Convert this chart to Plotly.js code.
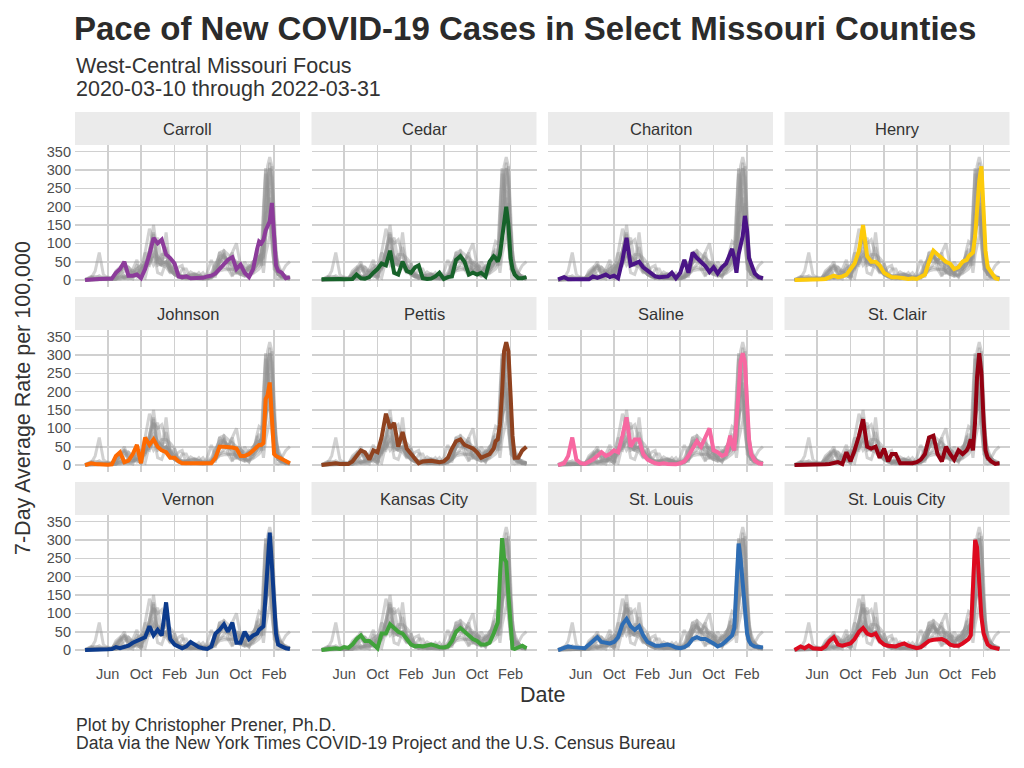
<!DOCTYPE html>
<html>
<head>
<meta charset="utf-8">
<script src="https://cdn.plot.ly/plotly-3.0.1.min.js"></script>
<style>html,body{margin:0;padding:0;background:#fff;}#chart{width:1024px;height:768px;}</style>
</head>
<body>
<div id="chart"></div>
<script>
// ---- Data (7-day average rate per 100,000) ----
const dates = ["2020-03-10","2020-04-01","2020-04-16","2020-05-01","2020-05-16","2020-06-01","2020-06-16","2020-07-01","2020-07-16","2020-08-01","2020-08-16","2020-09-01","2020-09-16","2020-10-01","2020-10-16","2020-11-01","2020-11-16","2020-12-01","2020-12-16",
"2021-01-01","2021-01-16","2021-02-01","2021-02-16","2021-03-01","2021-03-16","2021-04-01","2021-04-16","2021-05-01","2021-05-16","2021-06-01","2021-06-16","2021-07-01","2021-07-16","2021-08-01","2021-08-16","2021-09-01","2021-09-16","2021-10-01","2021-10-16","2021-11-01","2021-11-16",
"2021-12-01","2021-12-08","2021-12-16","2021-12-24",
"2022-01-01","2022-01-08","2022-01-16","2022-01-24","2022-02-01","2022-02-08","2022-02-16","2022-03-01","2022-03-16","2022-03-31"];

const counties = ["Carroll","Cedar","Chariton","Henry","Johnson","Pettis","Saline","St. Clair","Vernon","Kansas City","St. Louis","St. Louis City"];
const countyColors = ["#8C3B9A","#17622A","#4A1486","#FDCB0B","#FD6A02","#8F421F","#F768A1","#930011","#0C3B8C","#41A33B","#2E6DB4","#DD0A1F"];

const carroll = [0,0,2,3,3,2,4,20,30,50,12,12,15,5,30,70,115,100,110,
  70,60,45,10,8,10,5,6,5,6,10,12,18,30,40,55,62,30,42,20,8,30,
  85,105,100,110,
  135,150,160,210,110,40,25,20,5,8];
const cedar = [2,3,2,4,3,2,2,3,15,5,4,8,20,30,45,40,80,20,15,
  50,25,20,35,40,5,3,4,10,20,3,8,10,55,65,50,15,20,15,20,10,50,
  65,60,50,70,
  120,165,200,150,60,30,15,5,5,8];
const chariton = [2,8,2,2,1,1,1,2,10,6,10,15,8,12,5,55,115,40,45,
  50,35,25,15,10,8,8,10,20,5,20,55,20,75,60,50,38,22,35,18,35,45,
  70,85,60,20,
  70,95,120,175,135,60,45,18,8,5];
const henry = [0,0,0,0,0,1,2,3,8,12,8,10,15,30,45,80,150,65,50,
  50,40,20,12,8,8,5,5,3,5,3,8,15,50,80,70,60,50,45,30,35,50,
  55,65,70,75,
  120,200,270,310,150,80,35,20,5,2];
const johnson = [0,5,3,2,2,1,2,25,35,8,12,30,55,5,75,55,70,50,40,
  35,20,20,10,5,5,5,5,5,5,5,5,20,50,50,50,48,45,25,25,30,40,
  50,55,55,60,
  180,190,225,120,30,25,22,18,10,5];
const pettis = [0,2,3,5,3,2,3,10,25,40,35,15,40,35,75,140,100,115,50,
  90,45,30,20,5,10,12,12,10,8,10,20,45,65,70,55,50,45,35,20,25,30,
  45,65,70,110,
  200,310,335,310,190,80,20,20,40,50];
const saline = [0,5,25,75,15,5,3,8,15,25,35,25,30,40,35,80,130,50,70,
  70,30,15,8,5,3,5,3,3,2,5,10,25,45,65,50,75,100,40,35,25,30,
  80,55,40,110,
  200,280,305,280,140,70,30,12,5,3];
const stClair = [0,0,1,1,0,0,0,2,3,5,8,3,35,10,40,80,125,50,45,
  50,20,45,10,30,30,5,5,3,5,8,15,30,75,80,30,10,50,30,15,40,30,
  40,50,70,40,
  120,240,305,250,120,40,20,10,3,5];
const vernon = [0,0,0,1,1,2,3,8,5,8,12,20,25,30,35,65,40,55,40,
  130,30,15,8,5,10,22,15,8,5,3,10,45,55,70,50,75,20,20,50,30,40,
  45,55,60,65,
  150,230,320,230,120,45,15,10,5,3];
const kansasCity = [0,3,4,5,3,8,6,15,30,40,25,25,15,5,45,45,70,60,50,
  45,30,15,10,12,10,12,15,12,8,7,10,25,50,60,50,40,30,25,15,15,20,
  45,60,75,200,
  305,250,240,150,60,5,3,8,12,5];
const stLouis = [0,5,10,8,8,6,5,15,25,35,22,20,18,22,35,70,85,65,55,
  65,40,22,15,12,12,13,15,12,7,5,8,15,30,35,30,30,25,18,10,15,25,
  35,40,60,180,
  290,250,190,110,45,25,15,10,8,7];
const stLouisCity = [0,10,5,12,5,5,3,10,25,35,15,12,15,18,30,50,60,45,40,
  45,25,15,12,12,10,15,18,12,8,5,8,15,25,28,28,30,25,15,12,12,18,
  25,30,40,150,
  300,280,170,90,45,30,15,8,5,3];

const tickDates = ["2020-06-01","2020-10-01","2021-02-01","2021-06-01","2021-10-01","2022-02-01"];
const tickText = ["Jun","Oct","Feb","Jun","Oct","Feb"];
const yTicks = [0,50,100,150,200,250,300,350];

const seriesList = [carroll,cedar,chariton,henry,johnson,pettis,saline,stClair,vernon,kansasCity,stLouis,stLouisCity];

// ---- Layout geometry (pixels) ----
const W = 1024, H = 768;
const colLeft = [75, 311.5, 548, 784.5];
const panelW = 225;
const stripTop = [112, 297, 482];
const stripH = 33;
const plotH = 141.5;
const FONT = "Liberation Sans, Arial, Helvetica, sans-serif";

const traces = [];
const layout = {
  width: W, height: H,
  margin: {l:0, r:0, t:0, b:0},
  paper_bgcolor: "#FFFFFF",
  plot_bgcolor: "#FFFFFF",
  showlegend: false,
  font: {family: FONT, color: "#333333"},
  title: {
    text: "Pace of New COVID-19 Cases in Select Missouri Counties",
    x: 74/W, xanchor: "left", xref: "paper",
    y: 1 - 28/H, yanchor: "middle", yref: "paper",
    font: {family: FONT, size: 33, color: "#2B2B2B", weight: 700}
  },
  shapes: [],
  annotations: []
};

for (let i = 0; i < 12; i++) {
  const row = Math.floor(i / 4), col = i % 4;
  const sfx = i === 0 ? "" : String(i + 1);
  const xa = "x" + sfx, ya = "y" + sfx;
  // grey context lines: all counties
  for (let j = 0; j < 12; j++) {
    traces.push({
      type: "scatter", mode: "lines", x: dates, y: seriesList[j],
      xaxis: xa, yaxis: ya, hoverinfo: "skip",
      line: {color: "rgba(145,145,145,0.42)", width: 3}
    });
  }
  // highlighted county
  traces.push({
    type: "scatter", mode: "lines", x: dates, y: seriesList[i],
    xaxis: xa, yaxis: ya, name: counties[i],
    line: {color: countyColors[i], width: 4}
  });

  const x0 = colLeft[col], x1 = x0 + panelW;
  const pTop = stripTop[row] + stripH, pBot = pTop + plotH;
  layout["xaxis" + sfx] = {
    type: "date",
    domain: [x0 / W, x1 / W],
    anchor: ya,
    range: ["2020-02-02", "2022-05-07"],
    tickmode: "array", tickvals: tickDates, ticktext: tickText,
    showticklabels: row === 2,
    ticks: "", showline: false, zeroline: false,
    showgrid: true, gridcolor: "#D0D0D0", gridwidth: 1.6,
    tickfont: {family: FONT, size: 14.5, color: "#4D4D4D"},
    ticklabelstandoff: 7,
    fixedrange: true
  };
  layout["yaxis" + sfx] = {
    domain: [1 - pBot / H, 1 - pTop / H],
    anchor: xa,
    range: [-17.5, 368],
    tickmode: "array", tickvals: yTicks,
    showticklabels: col === 0,
    ticks: "", showline: false, zeroline: false,
    showgrid: true, gridcolor: "#D0D0D0", gridwidth: 1.6,
    tickfont: {family: FONT, size: 14.5, color: "#4D4D4D"},
    ticklabelstandoff: 3,
    fixedrange: true
  };
  // strip
  layout.shapes.push({
    type: "rect", xref: "paper", yref: "paper", layer: "below",
    x0: x0 / W, x1: x1 / W,
    y0: 1 - (stripTop[row] + stripH) / H, y1: 1 - stripTop[row] / H,
    fillcolor: "#EBEBEB", line: {width: 0}
  });
  layout.annotations.push({
    text: counties[i], xref: "paper", yref: "paper",
    x: (x0 + x1) / 2 / W, y: 1 - (stripTop[row] + stripH / 2) / H,
    xanchor: "center", yanchor: "middle", showarrow: false,
    font: {family: FONT, size: 16.5, color: "#333333"}
  });
}

// subtitle, axis titles, caption
const textAnn = [
  {text: "West-Central Missouri Focus", x: 74, y: 65.5, size: 21.5, anchor: "left"},
  {text: "2020-03-10 through 2022-03-31", x: 74, y: 89, size: 21.5, anchor: "left"},
  {text: "Date", x: 542, y: 695, size: 21.5, anchor: "center"},
  {text: "Plot by Christopher Prener, Ph.D.", x: 74, y: 724.5, size: 17.6, anchor: "left"},
  {text: "Data via the New York Times COVID-19 Project and the U.S. Census Bureau", x: 74, y: 743, size: 17.6, anchor: "left"}
];
textAnn.forEach(a => layout.annotations.push({
  text: a.text, xref: "paper", yref: "paper",
  x: a.x / W, y: 1 - a.y / H, xanchor: a.anchor, yanchor: "middle",
  showarrow: false, font: {family: FONT, size: a.size, color: "#333333"}
}));
layout.annotations.push({
  text: "7-Day Average Rate per 100,000", xref: "paper", yref: "paper",
  x: 23 / W, y: 1 - 398 / H, xanchor: "center", yanchor: "middle",
  textangle: -90, showarrow: false,
  font: {family: FONT, size: 21.5, color: "#333333"}
});

Plotly.newPlot("chart", traces, layout, {displayModeBar: false, staticPlot: true});
</script>
</body>
</html>
